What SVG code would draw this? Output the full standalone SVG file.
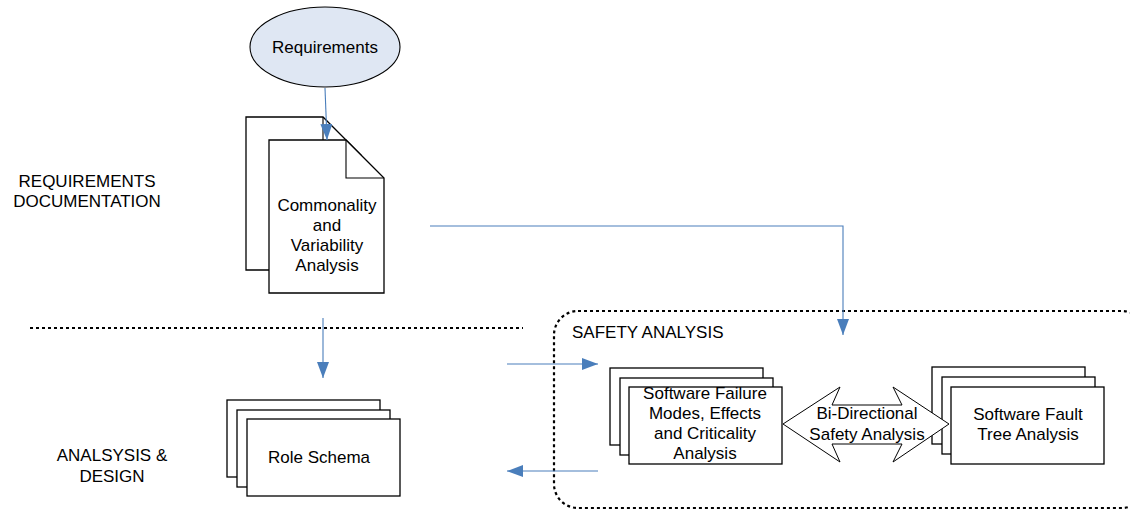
<svg xmlns="http://www.w3.org/2000/svg" width="1130" height="510" viewBox="0 0 1130 510">
<style>
text{font-family:"Liberation Sans",Arial,sans-serif;font-size:17px;fill:#000}
.c{text-anchor:middle}
.box{fill:#fff;stroke:#000;stroke-width:1.3}
.conn{fill:none;stroke:#4a7ebb;stroke-width:1.1}
</style>
<defs>
<marker id="ah" viewBox="0 0 16 12" refX="16" refY="6" markerWidth="16" markerHeight="12" markerUnits="userSpaceOnUse" orient="auto"><path d="M0,0 L16,6 L0,12 z" fill="#4a7ebb"/></marker>
</defs>
<rect width="1130" height="510" fill="#fff"/>

<g id="label-reqdoc">
<text class="c" x="87" y="187">REQUIREMENTS</text>
<text class="c" x="87" y="207">DOCUMENTATION</text>
</g>
<g id="label-design">
<text class="c" x="112" y="461">ANALSYSIS &amp;</text>
<text class="c" x="112" y="482">DESIGN</text>
</g>

<g id="divider">
<line x1="30" y1="328" x2="523" y2="328" stroke="#000" stroke-width="2.2" stroke-dasharray="3,3"/>
</g>

<g id="safety-analysis">
<rect x="554" y="311" width="592" height="197" rx="24" fill="none" stroke="#000" stroke-width="2.2" stroke-dasharray="3,3"/>
<text x="572" y="338">SAFETY ANALYSIS</text>
</g>

<g id="requirements">
<ellipse cx="325" cy="47" rx="75" ry="40" fill="#dfe7f3" stroke="#000" stroke-width="1.1"/>
<text class="c" x="325" y="53">Requirements</text>
</g>

<g id="cva">
<path class="box" d="M246,117 H323 L361,155 V270 H246 Z"/>
<path fill="none" stroke="#000" stroke-width="1.1" d="M323,117 V140"/>
<path class="box" d="M269,140 H346 L384,178 V293 H269 Z"/>
<path fill="none" stroke="#000" stroke-width="1.1" d="M346,140 V178 H384"/>
<text class="c" x="327" y="211">Commonality</text>
<text class="c" x="327" y="231">and</text>
<text class="c" x="327" y="251">Variability</text>
<text class="c" x="327" y="271">Analysis</text>
</g>

<g id="role-schema">
<rect class="box" x="227" y="400" width="153" height="77"/>
<rect class="box" x="237" y="410" width="153" height="77"/>
<rect class="box" x="247" y="419" width="153" height="77"/>
<text class="c" x="319" y="463">Role Schema</text>
</g>

<g id="sfmeca">
<rect class="box" x="610" y="368" width="153" height="77"/>
<rect class="box" x="620" y="378" width="153" height="77"/>
<rect class="box" x="629" y="387" width="153" height="77"/>
<text class="c" x="705" y="399">Software Failure</text>
<text class="c" x="705" y="419">Modes, Effects</text>
<text class="c" x="705" y="439">and Criticality</text>
<text class="c" x="705" y="459">Analysis</text>
</g>

<g id="sfta">
<rect class="box" x="932" y="367" width="153" height="77"/>
<rect class="box" x="942" y="377" width="153" height="77"/>
<rect class="box" x="951" y="387" width="153" height="77"/>
<text class="c" x="1028" y="420">Software Fault</text>
<text class="c" x="1028" y="440">Tree Analysis</text>
</g>

<g id="bidirectional">
<path fill="#fff" stroke="#000" stroke-width="1" d="M783,424 L840,387 L832,405 H902 L893,387 L949,424 L893,462 L902,444 H832 L840,462 Z"/>
<text class="c" x="867" y="419">Bi-Directional</text>
<text class="c" x="867" y="440">Safety Analysis</text>
</g>

<g id="connectors">
<path class="conn" d="M325,88 L327,140" marker-end="url(#ah)"/>
<path class="conn" d="M430,226 H843 V335" marker-end="url(#ah)"/>
<path class="conn" d="M323,318 V378" marker-end="url(#ah)"/>
<path class="conn" d="M507,364 H598" marker-end="url(#ah)"/>
<path class="conn" d="M598,471 H507" marker-end="url(#ah)"/>
</g>
</svg>
